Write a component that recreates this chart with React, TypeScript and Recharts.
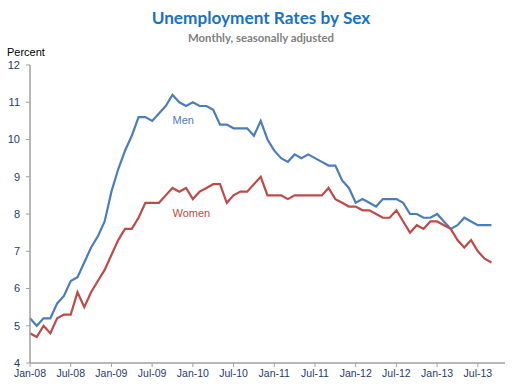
import React from 'react';
import {LineChart, Line, XAxis, YAxis} from 'recharts';

const months = [
    'Jan-08', 'Feb-08', 'Mar-08', 'Apr-08', 'May-08', 'Jun-08', 'Jul-08', 'Aug-08', 'Sep-08', 'Oct-08', 'Nov-08', 'Dec-08',
    'Jan-09', 'Feb-09', 'Mar-09', 'Apr-09', 'May-09', 'Jun-09', 'Jul-09', 'Aug-09', 'Sep-09', 'Oct-09', 'Nov-09', 'Dec-09',
    'Jan-10', 'Feb-10', 'Mar-10', 'Apr-10', 'May-10', 'Jun-10', 'Jul-10', 'Aug-10', 'Sep-10', 'Oct-10', 'Nov-10', 'Dec-10',
    'Jan-11', 'Feb-11', 'Mar-11', 'Apr-11', 'May-11', 'Jun-11', 'Jul-11', 'Aug-11', 'Sep-11', 'Oct-11', 'Nov-11', 'Dec-11',
    'Jan-12', 'Feb-12', 'Mar-12', 'Apr-12', 'May-12', 'Jun-12', 'Jul-12', 'Aug-12', 'Sep-12', 'Oct-12', 'Nov-12', 'Dec-12',
    'Jan-13', 'Feb-13', 'Mar-13', 'Apr-13', 'May-13', 'Jun-13', 'Jul-13', 'Aug-13', 'Sep-13',
];

const men = [
    5.2, 5.0, 5.2, 5.2, 5.6, 5.8, 6.2, 6.3, 6.7, 7.1, 7.4, 7.8,
    8.6, 9.2, 9.7, 10.1, 10.6, 10.6, 10.5, 10.7, 10.9, 11.2, 11.0, 10.9,
    11.0, 10.9, 10.9, 10.8, 10.4, 10.4, 10.3, 10.3, 10.3, 10.1, 10.5, 10.0,
    9.7, 9.5, 9.4, 9.6, 9.5, 9.6, 9.5, 9.4, 9.3, 9.3, 8.9, 8.7,
    8.3, 8.4, 8.3, 8.2, 8.4, 8.4, 8.4, 8.3, 8.0, 8.0, 7.9, 7.9,
    8.0, 7.8, 7.6, 7.7, 7.9, 7.8, 7.7, 7.7, 7.7,
];

const women = [
    4.8, 4.7, 5.0, 4.8, 5.2, 5.3, 5.3, 5.9, 5.5, 5.9, 6.2, 6.5,
    6.9, 7.3, 7.6, 7.6, 7.9, 8.3, 8.3, 8.3, 8.5, 8.7, 8.6, 8.7,
    8.4, 8.6, 8.7, 8.8, 8.8, 8.3, 8.5, 8.6, 8.6, 8.8, 9.0, 8.5,
    8.5, 8.5, 8.4, 8.5, 8.5, 8.5, 8.5, 8.5, 8.7, 8.4, 8.3, 8.2,
    8.2, 8.1, 8.1, 8.0, 7.9, 7.9, 8.1, 7.8, 7.5, 7.7, 7.6, 7.8,
    7.8, 7.7, 7.6, 7.3, 7.1, 7.3, 7.0, 6.8, 6.7,
];

const xTickLabels = ['Jan-08', 'Jul-08', 'Jan-09', 'Jul-09', 'Jan-10', 'Jul-10', 'Jan-11', 'Jul-11', 'Jan-12', 'Jul-12', 'Jan-13', 'Jul-13'];
const yTicks = [4, 5, 6, 7, 8, 9, 10, 11, 12];

const data = months.map((m, i) => ({idx: i, month: m, men: men[i], women: women[i]}));
const xTicks = xTickLabels.map(l => months.indexOf(l));

const FONT = '"Liberation Sans", Arial, sans-serif';
const AXIS = '#a0a0a0';
const TICK_TEXT = '#1f3b6e';
const MEN = '#4a7ebb';
const WOMEN = '#be4b48';

// series name written just under the point of the given month
const seriesLabel = (text: string, color: string, month: string) => (props: any) => {
    if (props.index !== months.indexOf(month)) return <g/>;
    return (
        <text x={props.x} y={props.y + 29} fill={color} fontSize={11} fontFamily={FONT}>
            {text}
        </text>
    );
};

const App: React.FC = () => (
    <div style={{position: 'absolute', left: 0, top: 0, width: 514, height: 385, background: '#fff'}}>
        <div style={{position: 'absolute', left: 0, width: 522, top: 7, textAlign: 'center', color: '#1a72c2',
            fontFamily: 'Lato, sans-serif', fontWeight: 700, fontSize: 17.2}}>
            Unemployment Rates by Sex
        </div>
        <div style={{position: 'absolute', left: 0, width: 522, top: 31, textAlign: 'center', color: '#7f7f7f',
            fontFamily: 'Lato, sans-serif', fontWeight: 700, fontSize: 11.4}}>
            Monthly, seasonally adjusted
        </div>
        <div style={{position: 'absolute', left: 7, top: 46, color: '#000', fontFamily: FONT, fontSize: 11}}>
            Percent
        </div>
        <div style={{position: 'absolute', left: 0, top: 0}}>
            <LineChart width={514} height={385} data={data} margin={{top: 65, right: 9, bottom: 0, left: 0}}>
                <XAxis dataKey="idx" type="number" domain={[0, 70]} ticks={xTicks} interval={0}
                       tickFormatter={(v: number) => months[v]} height={22} tickSize={4} tickMargin={3}
                       axisLine={{stroke: AXIS, strokeWidth: 1.5}} tickLine={{stroke: AXIS}}
                       tick={{fill: TICK_TEXT, fontSize: 10.5, fontFamily: FONT}}/>
                <YAxis yAxisId="l" domain={[4, 12]} ticks={yTicks} interval={0} width={30} tickSize={4} tickMargin={6}
                       axisLine={{stroke: AXIS, strokeWidth: 1.5}} tickLine={{stroke: AXIS}}
                       tick={{fill: TICK_TEXT, fontSize: 11, fontFamily: FONT}}/>
                <YAxis yAxisId="r" orientation="right" mirror width={0} domain={[4, 12]} ticks={yTicks} interval={0}
                       tick={false} tickSize={4} axisLine={{stroke: '#969696', strokeWidth: 2}} tickLine={{stroke: AXIS}}/>
                <Line yAxisId="l" dataKey="men" stroke={MEN} strokeWidth={2.2} dot={false} isAnimationActive={false}
                      label={seriesLabel('Men', MEN, 'Oct-09')}/>
                <Line yAxisId="l" dataKey="women" stroke={WOMEN} strokeWidth={2.2} dot={false} isAnimationActive={false}
                      label={seriesLabel('Women', WOMEN, 'Oct-09')}/>
            </LineChart>
        </div>
    </div>
);

export default App;
